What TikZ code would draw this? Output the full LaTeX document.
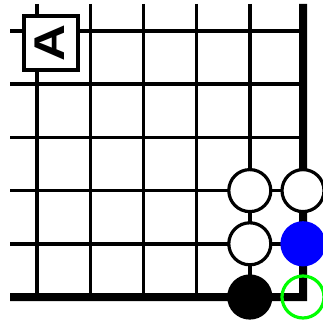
\documentclass[tikz,border=0pt]{standalone}
\usepackage{fontspec}
\setmainfont{Liberation Sans}
\definecolor{stoneblue}{RGB}{0,0,255}
\definecolor{stonegreen}{RGB}{0,255,0}
\begin{document}
\begin{tikzpicture}[x=1pt,y=-1pt,
  gridline/.style={line width=3.4pt, black},
  edgeline/.style={line width=8pt, black, line join=miter},
  stone/.style={circle, minimum size=42pt, inner sep=0pt, outer sep=0pt, line width=3.2pt},
  whitestone/.style={stone, draw=black, fill=white},
  blackstone/.style={stone, draw=black, fill=black},
  bluestone/.style={stone, draw=stoneblue, fill=stoneblue},
  greenmark/.style={stone, draw=stonegreen},
  labelbox/.style={draw=black, fill=white, line width=4pt, minimum size=54pt, inner sep=0pt,
    font=\fontsize{43}{43}\selectfont\bfseries, rotate=90}]
\useasboundingbox (0,0) rectangle (323,326);
\clip (0,0) rectangle (323,326);
% grid coordinates
\foreach \i in {0,...,5} {
  \pgfmathsetmacro\g{37+53.2*\i}
  \coordinate (vt\i) at (\g,4);
  \coordinate (vb\i) at (\g,297);
  \pgfmathsetmacro\h{31+53.2*\i}
  \coordinate (hl\i) at (10,\h);
  \coordinate (hr\i) at (303,\h);
}
% thin grid lines
\foreach \i in {0,...,4} {
  \draw[gridline] (vt\i) -- (vb\i);
  \draw[gridline] (hl\i) -- (hr\i);
}
% thick board edges
\draw[edgeline] (vt5) -- (vb5) -- (hl5);
% stones
\node[whitestone] (s1) at (vb4 |- hr3) {};
\node[whitestone] (s2) at (hr3) {};
\node[whitestone] (s3) at (vb4 |- hr4) {};
\node[bluestone]  (s4) at (hr4) {};
\node[blackstone] (s5) at (vb4) {};
\node[greenmark]  (s6) at (hr5) {};
% label
\node[labelbox] (lab) at (51,43) {\raisebox{3pt}{\scalebox{1.19}[1]{A}}\hspace{3pt}};
\end{tikzpicture}
\end{document}
